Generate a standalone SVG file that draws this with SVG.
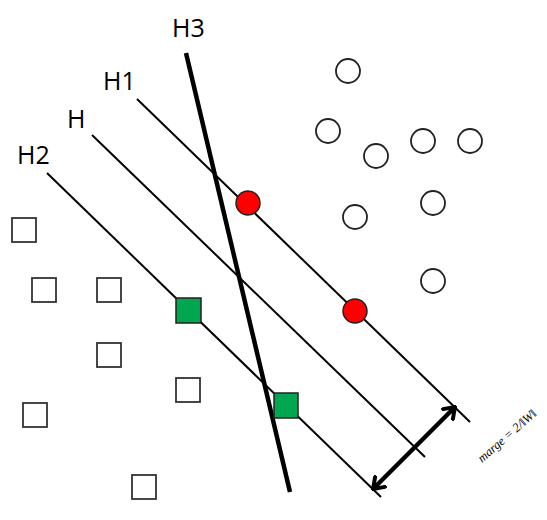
<svg xmlns="http://www.w3.org/2000/svg" width="547" height="520" viewBox="0 0 547 520">
  <style>
    .lbl { font-family: "Open Sans", "Liberation Sans", sans-serif; font-size: 25px; fill: #000; }
    .hp { stroke: #000; stroke-width: 2; fill: none; }
    .sq { fill: #fff; stroke: #333; stroke-width: 1.8; }
    .ci { fill: #fff; stroke: #222; stroke-width: 1.8; }
    .sv-c { fill: #ff0000; stroke: #222; stroke-width: 1.5; }
    .sv-s { fill: #00a650; stroke: #222; stroke-width: 1.5; }
    .mg { font-family: "Liberation Serif", "DejaVu Serif", serif; font-style: italic; font-size: 12.5px; fill: #000; }
  </style>
  <defs>
    <marker id="chev" viewBox="-12 -9 14 18" refX="0" refY="0" markerWidth="14" markerHeight="18" markerUnits="userSpaceOnUse" orient="auto-start-reverse">
      <path d="M -10 -7 L 0 0 L -10 7" fill="none" stroke="#000" stroke-width="4" stroke-linecap="round" stroke-linejoin="miter"/>
    </marker>
  </defs>
  <rect width="547" height="520" fill="#fff"/>

  <g id="connectors">
    <line id="H1-line" class="hp" x1="137" y1="99" x2="470" y2="422"/>
    <line id="H-line" class="hp" x1="92" y1="135" x2="425" y2="457"/>
    <line id="H2-line" class="hp" x1="47" y1="173" x2="381" y2="497"/>
    <line id="H3-line" x1="186" y1="53" x2="290" y2="492" stroke="#000" stroke-width="4.5"/>
    <line id="margin-arrow" x1="373" y1="489" x2="455" y2="407" stroke="#000" stroke-width="4.5" marker-start="url(#chev)" marker-end="url(#chev)"/>
  </g>

  <g id="labels">
    <text id="lbl-H3" class="lbl" x="172" y="37">H3</text>
    <text id="lbl-H1" class="lbl" x="103" y="90">H1</text>
    <text id="lbl-H" class="lbl" x="67" y="128">H</text>
    <text id="lbl-H2" class="lbl" x="17" y="164">H2</text>
    <text id="lbl-margin" class="mg" transform="translate(482,463) rotate(-41)">marge = 2/‖W‖</text>
  </g>

  <g id="circles">
    <circle id="c1" class="ci" cx="348" cy="71" r="12"/>
    <circle id="c2" class="ci" cx="328" cy="131" r="12"/>
    <circle id="c3" class="ci" cx="376" cy="156" r="12"/>
    <circle id="c4" class="ci" cx="423" cy="141" r="12"/>
    <circle id="c5" class="ci" cx="470" cy="141" r="12"/>
    <circle id="c6" class="ci" cx="433" cy="203" r="12"/>
    <circle id="c7" class="ci" cx="355" cy="217" r="12"/>
    <circle id="c8" class="ci" cx="433" cy="281" r="12"/>
    <circle id="sv-c1" class="sv-c" cx="248" cy="203" r="12"/>
    <circle id="sv-c2" class="sv-c" cx="355" cy="311" r="12"/>
  </g>

  <g id="squares">
    <rect id="s1" class="sq" x="12" y="218" width="24" height="24"/>
    <rect id="s2" class="sq" x="32" y="278" width="24" height="24"/>
    <rect id="s3" class="sq" x="97" y="278" width="24" height="24"/>
    <rect id="s4" class="sq" x="97" y="343" width="24" height="24"/>
    <rect id="s5" class="sq" x="176" y="378" width="24" height="24"/>
    <rect id="s6" class="sq" x="23" y="403" width="24" height="24"/>
    <rect id="s7" class="sq" x="132" y="475" width="24" height="24"/>
    <rect id="sv-s1" class="sv-s" x="176" y="298" width="25" height="25"/>
    <rect id="sv-s2" class="sv-s" x="274" y="393" width="24" height="25"/>
  </g>
</svg>
